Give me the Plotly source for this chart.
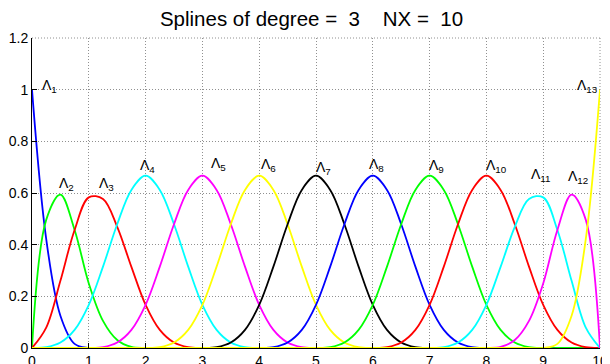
import plotly.graph_objects as go

# sample positions along x (every 0.25)
X_SAMPLES = [0.0, 0.25, 0.5, 0.75, 1.0, 1.25, 1.5, 1.75, 2.0, 2.25, 2.5, 2.75,
             3.0, 3.25, 3.5, 3.75, 4.0, 4.25, 4.5, 4.75, 5.0, 5.25, 5.5, 5.75,
             6.0, 6.25, 6.5, 6.75, 7.0, 7.25, 7.5, 7.75, 8.0, 8.25, 8.5, 8.75,
             9.0, 9.25, 9.5, 9.75, 10.0]

# values read on each curve's support; index of first support sample in X_SAMPLES
SUPPORT_START = [0, 0, 0, 0, 4, 8, 12, 16, 20, 24, 28, 32, 36]

L1 = [1.0, 0.422, 0.125, 0.016, 0.0]
L2 = [0.0, 0.496, 0.594, 0.457, 0.25, 0.105, 0.031, 0.004, 0.0]
L3 = [0.0, 0.079, 0.26, 0.457, 0.583, 0.577, 0.469, 0.314, 0.167, 0.07, 0.021, 0.003, 0.0]
L4 = [0.0, 0.003, 0.021, 0.07, 0.167, 0.315, 0.479, 0.612, 0.667, 0.612, 0.479, 0.315, 0.167, 0.07, 0.021, 0.003, 0.0]
L5 = [0.0, 0.003, 0.021, 0.07, 0.167, 0.315, 0.479, 0.612, 0.667, 0.612, 0.479, 0.315, 0.167, 0.07, 0.021, 0.003, 0.0]
L6 = [0.0, 0.003, 0.021, 0.07, 0.167, 0.315, 0.479, 0.612, 0.667, 0.612, 0.479, 0.315, 0.167, 0.07, 0.021, 0.003, 0.0]
L7 = [0.0, 0.003, 0.021, 0.07, 0.167, 0.315, 0.479, 0.612, 0.667, 0.612, 0.479, 0.315, 0.167, 0.07, 0.021, 0.003, 0.0]
L8 = [0.0, 0.003, 0.021, 0.07, 0.167, 0.315, 0.479, 0.612, 0.667, 0.612, 0.479, 0.315, 0.167, 0.07, 0.021, 0.003, 0.0]
L9 = [0.0, 0.003, 0.021, 0.07, 0.167, 0.315, 0.479, 0.612, 0.667, 0.612, 0.479, 0.315, 0.167, 0.07, 0.021, 0.003, 0.0]
L10 = [0.0, 0.003, 0.021, 0.07, 0.167, 0.315, 0.479, 0.612, 0.667, 0.612, 0.479, 0.315, 0.167, 0.07, 0.021, 0.003, 0.0]
L11 = [0.0, 0.003, 0.021, 0.07, 0.167, 0.314, 0.469, 0.577, 0.583, 0.457, 0.26, 0.079, 0.0]
L12 = [0.0, 0.004, 0.031, 0.105, 0.25, 0.457, 0.594, 0.496, 0.0]
L13 = [0.0, 0.016, 0.125, 0.422, 1.0]

CURVES = [L1, L2, L3, L4, L5, L6, L7, L8, L9, L10, L11, L12, L13]
NAMES = ["Λ<sub>%d</sub>" % (i + 1) for i in range(13)]

# label positions (left edge of Λ, baseline of Λ)
LABEL_X = [0.18, 0.48, 1.18, 1.91, 3.15, 4.04, 5.0, 5.94, 6.99, 7.99, 8.79, 9.43, 9.60]
LABEL_Y = [1.003, 0.622, 0.622, 0.693, 0.700, 0.697, 0.686, 0.697, 0.692, 0.692, 0.658, 0.650, 1.003]

X_TICKS = [0, 1, 2, 3, 4, 5, 6, 7, 8, 9, 10]
Y_TICKS = [0, 0.2, 0.4, 0.6, 0.8, 1.0, 1.2]
Y_TICKTEXT = ["0", "0.2", "0.4", "0.6", "0.8", "1", "1.2"]

NB = "\u00a0"
TITLE = "Splines of degree =" + NB * 2 + "3" + NB * 4 + "NX =" + NB * 2 + "10"

COLORS = ["#0000ff", "#00ff00", "#ff0000", "#00ffff", "#ff00ff", "#ffff00", "#000000"]

FONT = "Liberation Sans, Arial, Helvetica, sans-serif"
GRID_COLOR = "#909090"
GRID_DASH = "1px,2px"

# the page body adds an 8px margin; the figure is sized so it fills the window
W, H = 602, 356

fig = go.Figure()
for i, vals in enumerate(CURVES):
    s = SUPPORT_START[i]
    y = [0.0] * s + list(vals) + [0.0] * (len(X_SAMPLES) - s - len(vals))
    fig.add_trace(go.Scatter(
        x=X_SAMPLES, y=y, mode="lines",
        line=dict(color=COLORS[i % 7], width=1.8, shape="spline", smoothing=1.0),
        showlegend=False, hoverinfo="skip",
    ))

for i in range(13):
    fig.add_annotation(
        x=LABEL_X[i], y=LABEL_Y[i], xref="x", yref="y",
        text=NAMES[i], showarrow=False, xanchor="left", yanchor="bottom",
        font=dict(family=FONT, size=14, color="black"),
        borderpad=0, yshift=-7, xshift=-1,
    )

# dotted frame lines on the top and right edges (grid at the last ticks)
fig.add_shape(type="line", xref="paper", yref="paper", x0=0, x1=1, y0=1, y1=1,
              line=dict(color=GRID_COLOR, width=1, dash=GRID_DASH), layer="below")
fig.add_shape(type="line", xref="paper", yref="paper", x0=1, x1=1, y0=0, y1=1,
              line=dict(color=GRID_COLOR, width=1, dash=GRID_DASH), layer="below")

axis_common = dict(
    showline=True, linecolor="black", linewidth=1,
    ticks="inside", ticklen=5, tickcolor="black", tickwidth=1,
    showgrid=True, gridcolor=GRID_COLOR, griddash=GRID_DASH, gridwidth=1,
    zeroline=False, mirror=False, automargin=False,
    tickfont=dict(family=FONT, size=14, color="black"),
)

fig.update_layout(
    width=W, height=H,
    margin=dict(l=24, r=10, t=30, b=16),
    paper_bgcolor="white", plot_bgcolor="white",
    title=dict(
        text=TITLE,
        x=303.5 / W, xref="container", xanchor="center",
        y=1 - 11 / H, yref="container", yanchor="middle",
        font=dict(family=FONT, size=20.5, color="black"),
    ),
    xaxis=dict(range=[0, 10], tickvals=X_TICKS, ticktext=[str(v) for v in X_TICKS], **axis_common),
    yaxis=dict(range=[0, 1.2], tickvals=Y_TICKS, ticktext=Y_TICKTEXT, **axis_common),
)

fig.write_html("out.html")
